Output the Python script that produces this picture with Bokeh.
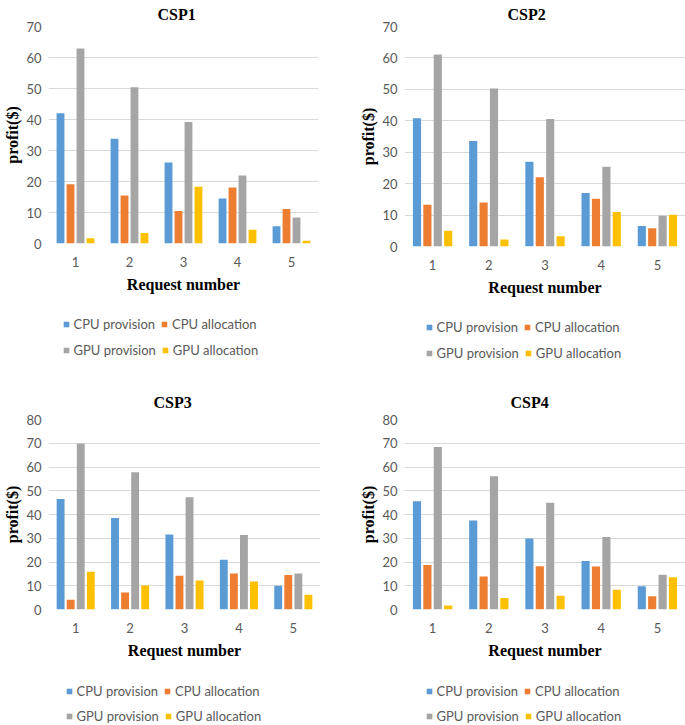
from bokeh.plotting import figure
from bokeh.models import ColumnDataSource, FactorRange, FixedTicker, Legend, LegendItem
from bokeh.transform import dodge
from bokeh.layouts import column, row
from bokeh.embed import file_html
from bokeh.resources import INLINE

# ---------------- data ----------------
requests = ["1", "2", "3", "4", "5"]
series_names = ["CPU provision", "CPU allocation", "GPU provision", "GPU allocation"]
series_colors = ["#5B9BD5", "#ED7D31", "#A5A5A5", "#FFC000"]

csp1_cpu_provision = [42.0, 33.8, 26.1, 14.5, 5.6]
csp1_cpu_allocation = [19.1, 15.5, 10.5, 18.1, 11.1]
csp1_gpu_provision = [62.9, 50.4, 39.2, 21.9, 8.4]
csp1_gpu_allocation = [1.7, 3.4, 18.3, 4.4, 0.9]

csp2_cpu_provision = [40.8, 33.6, 27.0, 17.0, 6.5]
csp2_cpu_allocation = [13.3, 14.0, 22.0, 15.2, 5.8]
csp2_gpu_provision = [61.1, 50.3, 40.6, 25.4, 9.8]
csp2_gpu_allocation = [5.0, 2.2, 3.3, 11.0, 10.1]

csp3_cpu_provision = [46.5, 38.5, 31.6, 20.9, 10.0]
csp3_cpu_allocation = [4.1, 7.2, 14.2, 15.2, 14.5]
csp3_gpu_provision = [69.8, 57.8, 47.3, 31.4, 15.2]
csp3_gpu_allocation = [15.9, 10.1, 12.2, 11.8, 6.2]

csp4_cpu_provision = [45.6, 37.5, 29.9, 20.4, 9.8]
csp4_cpu_allocation = [18.7, 13.9, 18.2, 18.1, 5.6]
csp4_gpu_provision = [68.4, 56.1, 44.9, 30.5, 14.6]
csp4_gpu_allocation = [1.7, 4.8, 5.8, 8.3, 13.6]

y_ticks_top = [0, 10, 20, 30, 40, 50, 60, 70]
y_ticks_bottom = [0, 10, 20, 30, 40, 50, 60, 70, 80]

TICK_FONT = "Lato"
SERIF = "Liberation Serif"
bar_offsets = [-0.2775, -0.0925, 0.0925, 0.2775]


def make_chart(title, values, ticks, g):
    p = figure(width=g["w"], height=g["h"], output_backend="svg", toolbar_location=None,
               x_range=FactorRange(factors=requests, range_padding=0),
               y_range=(ticks[0], ticks[-1]),
               min_border_left=g["left"], min_border_right=g["right"],
               min_border_top=g["top"], min_border_bottom=g["bottom"])
    p.outline_line_color = None
    p.background_fill_color = "white"
    p.border_fill_color = "white"

    p.title.text = title
    p.title.align = "left"
    p.title.offset = g["toff"]
    p.title.standoff = g["tstand"]
    p.title.text_font = SERIF
    p.title.text_font_style = "bold"
    p.title.text_font_size = "16px"
    p.title.text_color = "black"

    data = dict(req=requests)
    keys = ["s0", "s1", "s2", "s3"]
    for k, v in zip(keys, values):
        data[k] = v
    src = ColumnDataSource(data)
    for k, off, col in zip(keys, bar_offsets, series_colors):
        p.vbar(x=dodge("req", off, range=p.x_range), top=k, width=0.145, bottom=0,
               source=src, fill_color=col, line_color=None)

    p.xgrid.grid_line_color = None
    p.ygrid.grid_line_color = "#D9D9D9"
    p.ygrid.grid_line_width = 1
    p.yaxis.ticker = FixedTicker(ticks=ticks)
    for ax in (p.xaxis[0], p.yaxis[0]):
        ax.axis_line_color = None
        ax.major_tick_line_color = None
        ax.minor_tick_line_color = None
        ax.major_tick_out = 0
        ax.major_tick_in = 0
        ax.minor_tick_out = 0
        ax.minor_tick_in = 0
        ax.major_label_text_font = TICK_FONT
        ax.major_label_text_font_size = "13px"
        ax.major_label_text_color = "#595959"
        ax.axis_label_text_font = SERIF
        ax.axis_label_text_font_style = "bold"
        ax.axis_label_text_color = "black"
    p.yaxis.axis_label = "profit($)"
    p.yaxis.axis_label_text_font_size = "16px"
    p.yaxis.major_label_standoff = 7
    p.yaxis.axis_label_standoff = 2
    p.xaxis.axis_label = "Request number"
    p.xaxis.axis_label_text_font_size = "16px"
    p.xaxis.major_label_standoff = 13
    p.xaxis.axis_label_standoff = 6
    return p


def make_legend_fig(g):
    q = figure(width=g["w"], height=g["lh"], output_backend="svg", toolbar_location=None,
               x_axis_location=None, y_axis_location=None,
               x_range=(0, 1), y_range=(0, 1),
               min_border_left=g["left"], min_border_right=g["right"],
               min_border_top=0, min_border_bottom=0)
    q.outline_line_color = None
    q.xgrid.visible = False
    q.ygrid.visible = False
    swatches = []
    for name, col in zip(series_names, series_colors):
        # legend-only proxy (no visible point)
        r = q.scatter(x=[float("nan")], y=[float("nan")], marker="square", size=6,
                      fill_color=col, line_color=None)
        swatches.append(LegendItem(label=name, renderers=[r]))
    for pair, vy in ((swatches[0:2], g["ly1"]), (swatches[2:4], g["ly2"])):
        leg = Legend(items=pair, location=(g["lx"], vy), orientation="horizontal",
                     glyph_width=14, glyph_height=16, label_height=16, label_standoff=1,
                     spacing=2, padding=0, margin=0, border_line_color=None,
                     background_fill_alpha=0, label_text_font=TICK_FONT,
                     label_text_font_size="13px", label_text_color="#595959")
        q.add_layout(leg)
    return q


g1 = dict(w=340, h=305, left=48, right=22, top=25, bottom=62, toff=109, tstand=7,
          lh=60, lx=10.5, ly1=33, ly2=7)
g2 = dict(w=345, h=305, left=64, right=0, top=25, bottom=59, toff=103, tstand=7,
          lh=60, lx=17.5, ly1=30, ly2=4)
g3 = dict(w=340, h=302, left=48, right=20, top=54, bottom=58, toff=105, tstand=17,
          lh=58, lx=13.5, ly1=26, ly2=1)
g4 = dict(w=345, h=302, left=64, right=0, top=54, bottom=58, toff=106, tstand=17,
          lh=58, lx=17.5, ly1=26, ly2=1)

p1 = make_chart("CSP1", [csp1_cpu_provision, csp1_cpu_allocation, csp1_gpu_provision, csp1_gpu_allocation], y_ticks_top, g1)
p2 = make_chart("CSP2", [csp2_cpu_provision, csp2_cpu_allocation, csp2_gpu_provision, csp2_gpu_allocation], y_ticks_top, g2)
p3 = make_chart("CSP3", [csp3_cpu_provision, csp3_cpu_allocation, csp3_gpu_provision, csp3_gpu_allocation], y_ticks_bottom, g3)
p4 = make_chart("CSP4", [csp4_cpu_provision, csp4_cpu_allocation, csp4_gpu_provision, csp4_gpu_allocation], y_ticks_bottom, g4)

layout = column(
    row(column(p1, make_legend_fig(g1), spacing=0), column(p2, make_legend_fig(g2), spacing=0), spacing=0),
    row(column(p3, make_legend_fig(g3), spacing=0), column(p4, make_legend_fig(g4), spacing=0), spacing=0),
    spacing=0)

open("out.html", "w").write(file_html(layout, INLINE))
